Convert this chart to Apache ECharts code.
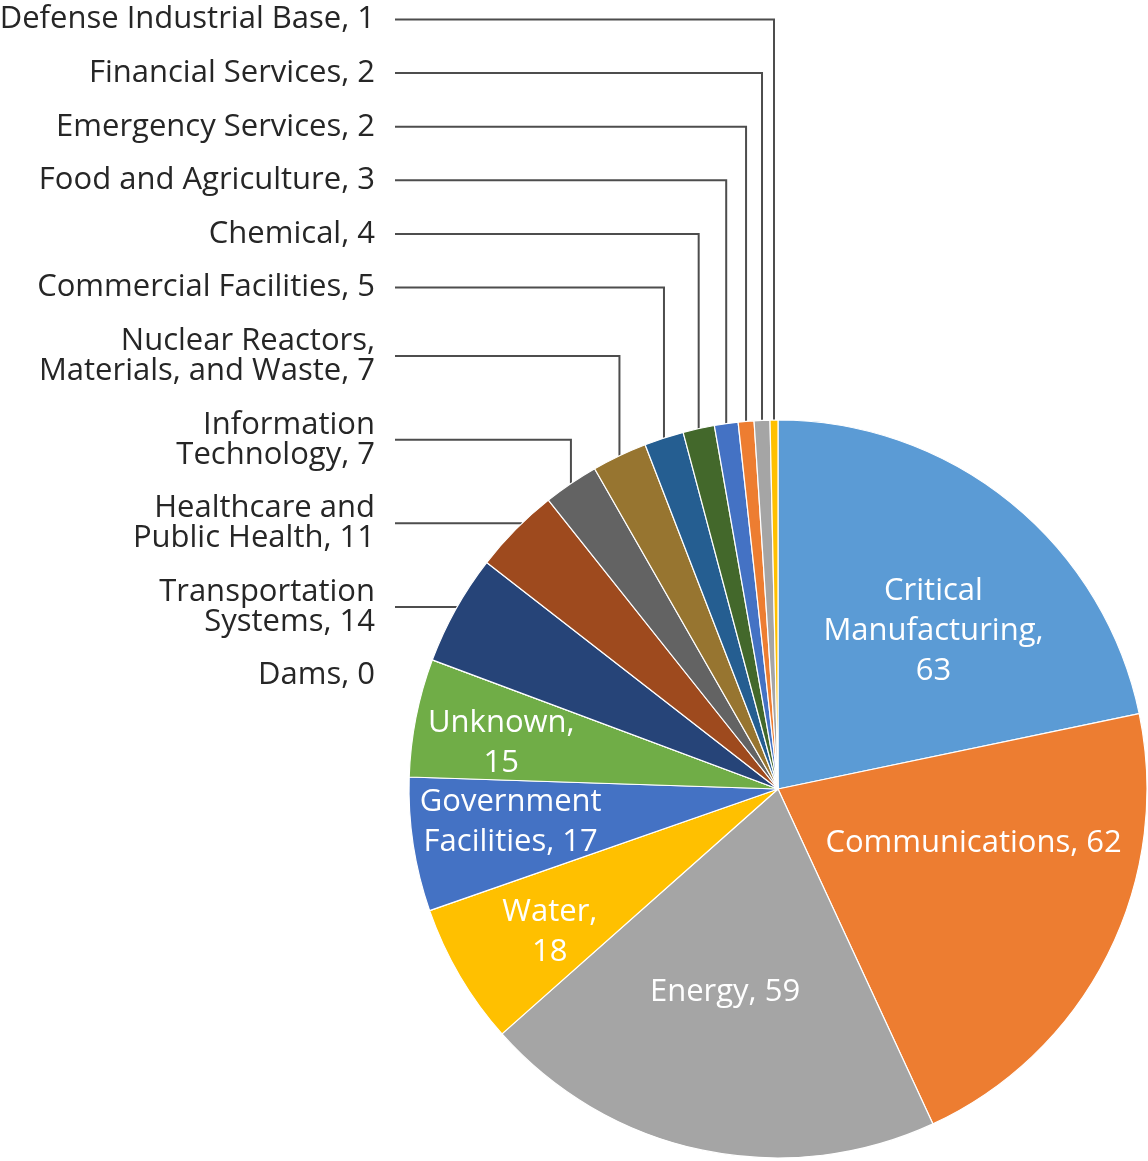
<!DOCTYPE html>
<html>
<head>
<meta charset="utf-8">
<title>Incidents by Critical Infrastructure Sector</title>
<script src="https://cdn.jsdelivr.net/npm/echarts@6/dist/echarts.min.js"></script>
<style>
  html, body { margin: 0; padding: 0; background: #ffffff; }
  #chart { width: 1148px; height: 1161px; }
</style>
</head>
<body>
<div id="chart"></div>
<script>
// Sectors in clockwise order starting at 12 o'clock
const sectors = [
  'Critical Manufacturing', 'Communications', 'Energy', 'Water',
  'Government Facilities', 'Unknown', 'Dams', 'Transportation Systems',
  'Healthcare and Public Health', 'Information Technology',
  'Nuclear Reactors, Materials, and Waste', 'Commercial Facilities',
  'Chemical', 'Food and Agriculture', 'Emergency Services',
  'Financial Services', 'Defense Industrial Base'
];
const incidents = [63, 62, 59, 18, 17, 15, 0, 14, 11, 7, 7, 5, 4, 3, 2, 2, 1];
const sliceColors = [
  '#5B9BD5', '#ED7D31', '#A5A5A5', '#FFC000', '#4472C4', '#70AD47',
  '#255E91', '#264478', '#9E4A1E', '#636363', '#977530', '#255E91',
  '#43682B', '#4472C4', '#ED7D31', '#A5A5A5', '#FFC000'
];
// word counts after which a label wraps to a new line
const labelBreaks = [[1, 2], [], [], [1], [1], [1], [], [1], [2], [1], [2], [], [], [], [], [], []];

// geometry of the pie and label column
const CX = 778, CY = 789, R = 369;
const LABEL_RIGHT = 375, LINE_START = 395;
const OUT_LINE_H = 30, OUT_GAP = 23.6, OUT_TOP = 4.5;
const IN_LINE_H = 40;
const FONT = "'Open Sans', 'Noto Sans', sans-serif";
const FONT_SIZE = 31;

// inside labels: [fraction of radius, angle nudge in degrees]
const insidePlacement = {
  0: [0.60, 5.5],
  1: [0.55, -11.2],
  2: [0.57, 2.8],
  3: [0.73, -1.7],
  4: [0.73, 1.6],
  5: [0.76, -1.8]
};

function labelText(i) {
  const words = (sectors[i] + ', ' + incidents[i]).split(' ');
  const breaks = labelBreaks[i];
  let out = '';
  words.forEach(function (w, k) {
    if (k > 0) out += breaks.indexOf(k) >= 0 ? '\n' : ' ';
    out += w;
  });
  return out;
}

const total = incidents.reduce(function (a, b) { return a + b; }, 0);
const startDeg = [], endDeg = [];
let acc = 0;
incidents.forEach(function (v, i) {
  startDeg[i] = acc / total * 360;
  acc += v;
  endDeg[i] = acc / total * 360;
});

// stack the outside labels top-down, smallest slice first
const labelY = {};
let cursor = OUT_TOP;
for (let i = incidents.length - 1; i >= 0; i--) {
  if (insidePlacement[i]) continue;
  const h = labelText(i).split('\n').length * OUT_LINE_H;
  labelY[i] = cursor + h / 2;
  cursor += h + OUT_GAP;
}

const seriesData = sectors.map(function (name, i) {
  const inside = !!insidePlacement[i];
  return {
    name: name,
    value: incidents[i],
    itemStyle: { color: sliceColors[i] },
    label: inside
      ? { position: 'inside', color: '#ffffff', lineHeight: IN_LINE_H }
      : { position: 'outside', color: '#262626', lineHeight: OUT_LINE_H },
    labelLine: { show: !inside && incidents[i] > 0 }
  };
});

const chart = echarts.init(document.getElementById('chart'), null, { renderer: 'canvas' });
chart.setOption({
  animation: false,
  backgroundColor: '#ffffff',
  series: [{
    type: 'pie',
    center: [CX, CY],
    radius: R,
    startAngle: 90,
    clockwise: true,
    avoidLabelOverlap: false,
    minShowLabelAngle: 0,
    itemStyle: { borderColor: '#ffffff', borderWidth: 1.2 },
    label: {
      show: true,
      fontFamily: FONT,
      fontSize: FONT_SIZE,
      width: 460,
      overflow: 'none',
      formatter: function (p) { return labelText(p.dataIndex); }
    },
    labelLine: {
      show: true,
      smooth: false,
      lineStyle: { color: '#4d4d4d', width: 2 }
    },
    labelLayout: function (p) {
      const i = p.dataIndex;
      const mid = (startDeg[i] + endDeg[i]) / 2;
      if (insidePlacement[i]) {
        const f = insidePlacement[i][0];
        const a = (mid + insidePlacement[i][1]) * Math.PI / 180;
        return {
          x: CX + R * f * Math.sin(a),
          y: CY - R * f * Math.cos(a),
          align: 'center',
          verticalAlign: 'middle'
        };
      }
      const y = labelY[i];
      const out = { x: LABEL_RIGHT, y: y, align: 'right', verticalAlign: 'middle' };
      if (incidents[i] > 0) {
        const dy = CY - y;
        // left-side angles measured counter-clockwise from 12 o'clock
        const a0 = 360 - endDeg[i], a1 = 360 - startDeg[i];
        const phi = dy < R ? Math.acos(dy / R) * 180 / Math.PI : -1;
        if (phi >= a0 && phi <= a1) {
          const ax = CX - R * Math.sin(phi * Math.PI / 180);
          out.labelLinePoints = [[ax, y], [(ax + LINE_START) / 2, y], [LINE_START, y]];
        } else {
          const m = mid * Math.PI / 180;
          const px = CX + R * Math.sin(m), py = CY - R * Math.cos(m);
          out.labelLinePoints = [[px, py], [px, y], [LINE_START, y]];
        }
      }
      return out;
    },
    data: seriesData
  }]
});
</script>
</body>
</html>
